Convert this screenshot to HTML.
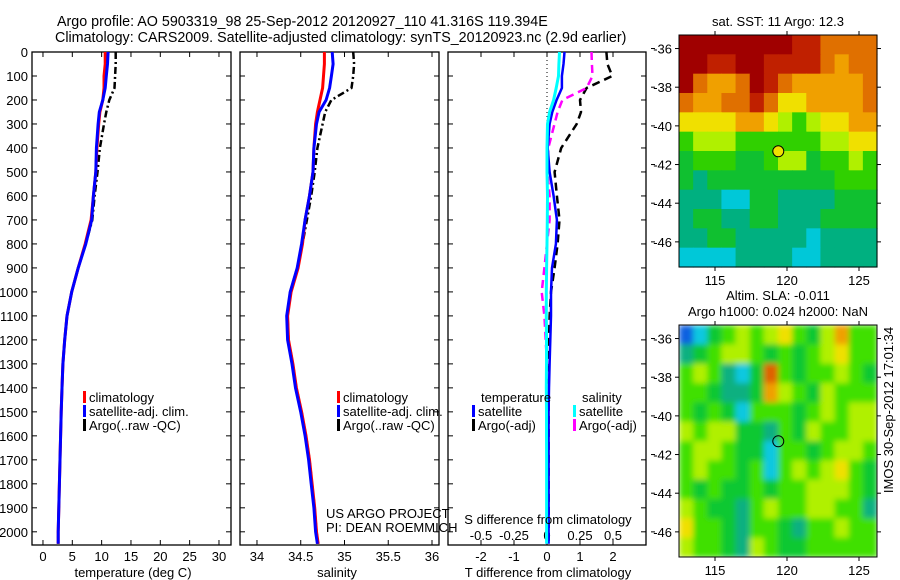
<!DOCTYPE html>
<html><head><meta charset="utf-8"><style>
html,body{margin:0;padding:0;background:#fff;}
svg{display:block;font-family:"Liberation Sans",sans-serif;}
</style></head><body>
<svg id="fig" width="900" height="580" viewBox="0 0 900 580" xmlns="http://www.w3.org/2000/svg">
<defs><clipPath id="slaclip"><rect x="679" y="325" width="198" height="232"/></clipPath><filter id="soft" x="0" y="0" width="1" height="1"><feGaussianBlur stdDeviation="3"/></filter></defs>
<text x="57" y="26" font-size="14.3">Argo profile: AO 5903319_98 25-Sep-2012 20120927_110 41.316S 119.394E</text>
<text x="55" y="42" font-size="14.3">Climatology: CARS2009. Satellite-adjusted climatology: synTS_20120923.nc (2.9d earlier)</text>
<g id="plots"></g>
</svg>
<script>
const depths=[0,50,100,150,200,250,300,400,500,600,700,800,900,1000,1100,1200,1300,1400,1500,1600,1700,1800,1900,2000,2050];
const tempClim=[10.6,10.6,10.4,10.4,10.2,9.7,9.5,9.2,9.0,8.6,8.2,7.2,6.0,4.9,4.1,3.7,3.4,3.25,3.1,3.0,2.9,2.8,2.7,2.6,2.6];
const tempSat=[11.1,11.0,10.8,10.6,10.2,9.6,9.4,9.1,9.0,8.6,8.3,7.3,6.0,4.9,4.1,3.7,3.4,3.25,3.1,3.0,2.9,2.8,2.7,2.6,2.6];
const tempArgo=[12.4,12.4,12.3,12.2,11.3,10.8,10.4,9.7,9.3,8.8,8.4,7.3,6.0,4.9,4.1,3.7,3.4,3.25,3.1,3.0,2.9,2.8,2.7,2.6,2.6];
const salClim=[34.77,34.77,34.76,34.75,34.72,34.69,34.67,34.65,34.64,34.6,34.55,34.52,34.47,34.39,34.35,34.36,34.41,34.45,34.51,34.56,34.6,34.63,34.66,34.68,34.7];
const salSat=[34.86,34.87,34.85,34.83,34.79,34.71,34.68,34.65,34.64,34.6,34.55,34.51,34.46,34.38,34.34,34.35,34.4,34.44,34.5,34.55,34.59,34.62,34.65,34.67,34.69];
const salArgo=[35.10,35.11,35.10,35.08,34.85,34.78,34.75,34.69,34.66,34.62,34.57,34.52,34.46,34.38,34.35,34.36,34.41,34.45,34.51,34.56,34.6,34.63,34.66,34.68,34.7];
const dTsat=[0.53,0.5,0.45,0.45,0.29,0.16,0.08,0.02,0.08,0.2,0.3,0.27,0.15,0.12,0.12,0.1,0.08,0.06,0.05,0.05,0.05,0.05,0.05,0.05,0.05];
const dSsat=[0.095,0.09,0.087,0.07,0.05,0.02,0.004,0,0,0.004,0.002,0,-0.003,-0.005,-0.005,-0.004,-0.004,-0.005,-0.004,-0.004,-0.003,-0.003,-0.003,-0.003,-0.003];
const dTargo=[1.8,1.83,1.98,1.2,1.0,1.03,0.9,0.43,0.23,0.3,0.38,0.32,0.23,0.12,0.08,0.06,0.05,0.05,0.05,0.05,0.05,0.05,0.05,0.05,0.05];
const dSargo=[0.337,0.34,0.345,0.3,0.117,0.08,0.057,0.01,0.004,0.02,0.02,0,-0.02,-0.04,-0.02,-0.01,0,0,0,0,0,0,0,0,0];
const depthTicks=[0,100,200,300,400,500,600,700,800,900,1000,1100,1200,1300,1400,1500,1600,1700,1800,1900,2000];
const tempTicks=[0,5,10,15,20,25,30];
const salTicks=[34,34.5,35,35.5,36];
const dTTicks=[-2,-1,0,1,2];
const dSTicks=[-0.5,-0.25,0,0.25,0.5];
const dSTickLabels=["-0.5","-0.25","0","0.25","0.5"];
const sstGrid=["99999999887777","99889988887677","97667987666667","76677875566667","55556654345566","34443333334455","23332234423343","21222222222333","11100221111222","12211221112222","11221111101111","00001111001111"];
const slaGrid=["01345456435744","23455434345644","45421384344543","44322375435444","43431444345455","54553324354455","45543314434554","45443414545643","43433434455543","54332454455442","64432443244544","54432543344444"];
const lonTicks=[115,120,125];
const latTicks=[-36,-38,-40,-42,-44,-46];
const floatLon=119.394, floatLat=-41.316;

const NS="http://www.w3.org/2000/svg";
const root=document.getElementById('plots');
function mk(tag,attrs,parent){const e=document.createElementNS(NS,tag);for(const k in attrs)e.setAttribute(k,attrs[k]);(parent||root).appendChild(e);return e;}
const yTop=52,yBot=545;
const yD=d=>yTop+(d/2055)*(yBot-yTop);

function panel(name,x0,x1,xmin,xmax){
  const g=mk('g',{});
  
  
  const xs=v=>x0+(v-xmin)/(xmax-xmin)*(x1-x0);
  return {g,xs,x0,x1};
}
function frame(p,xticks,labels,ly){
  const b=mk('rect',{x:p.x0,y:yTop,width:p.x1-p.x0,height:yBot-yTop,fill:'none',stroke:'#000','stroke-width':1.3},p.g);
  
  
  depthTicks.forEach(d=>{const y=yD(d);
    mk('line',{x1:p.x0,x2:p.x0+5,y1:y,y2:y,stroke:'#000'},p.g);
    mk('line',{x1:p.x1,x2:p.x1-5,y1:y,y2:y,stroke:'#000'},p.g);});
  xticks.forEach((v,i)=>{const x=p.xs(v);
    mk('line',{x1:x,x2:x,y1:yTop,y2:yTop+5,stroke:'#000'},p.g);
    mk('line',{x1:x,x2:x,y1:yBot,y2:yBot-5,stroke:'#000'},p.g);
    if(labels){const t=mk('text',{x:x,y:ly,'font-size':13,'text-anchor':'middle'},p.g);t.textContent=labels[i];
      
      }
  });
}
function line(p,vals,xs,color,w,dash,name){
  const pts=vals.map((v,i)=>xs(v).toFixed(1)+','+yD(depths[i]).toFixed(1)).join(' ');
  const a={points:pts,fill:'none',stroke:color,'stroke-width':w,'stroke-linejoin':'round'};
  if(dash)a['stroke-dasharray']=dash;
  const e=mk('polyline',a,p.g);
  
  
}
function txt(g,x,y,s,size,name,anchor){const t=mk('text',{x:x,y:y,'font-size':size||13,'text-anchor':anchor||'start'},g);t.textContent=s;
  
  return t;}
function legend(g,x,y,color,label,name){
  const r=mk('rect',{x:x,y:y-11,width:3,height:12,fill:color},g);
  
  
  txt(g,x+6,y,label,13,name+'-label');
}

depthTicks.forEach(d=>{txt(root,28,yD(d)+5,String(d),13,'y-tick-label','end');});

const p1=panel('temperature-panel',32,231,-1.87,32.05);
frame(p1,tempTicks,tempTicks.map(String),561);
line(p1,tempArgo,p1.xs,'#000',2.5,'7,3,2,3','argo-temp-line');
line(p1,tempClim,p1.xs,'#ff0000',3,null,'clim-temp-line');
line(p1,tempSat,p1.xs,'#0000ff',3,null,'sat-temp-line');
txt(p1.g,133,577,'temperature (deg C)',13,'x-axis-title','middle');
legend(p1.g,83,402,'#ff0000','climatology','legend-climatology');
legend(p1.g,83,416,'#0000ff','satellite-adj. clim.','legend-satellite');
legend(p1.g,83,430,'#000','Argo(..raw -QC)','legend-argo');

const p2=panel('salinity-panel',240,439,33.806,36.08);
frame(p2,salTicks,salTicks.map(String),561);
line(p2,salArgo,p2.xs,'#000',2.5,'7,3,2,3','argo-sal-line');
line(p2,salClim,p2.xs,'#ff0000',3,null,'clim-sal-line');
line(p2,salSat,p2.xs,'#0000ff',3,null,'sat-sal-line');
txt(p2.g,337,577,'salinity',13,'x-axis-title','middle');
legend(p2.g,337,402,'#ff0000','climatology','legend-climatology');
legend(p2.g,337,416,'#0000ff','satellite-adj. clim.','legend-satellite');
legend(p2.g,337,430,'#000','Argo(..raw -QC)','legend-argo');
txt(p2.g,326,518,'US ARGO PROJECT',13,'credit-project');
txt(p2.g,326,532,'PI: DEAN ROEMMICH',13,'credit-pi');

const p3=panel('difference-panel',448,646,-3,3);
const xsS=v=>p3.xs(v*4);
frame(p3,dTTicks,dTTicks.map(String),561);
dSTicks.forEach((v,i)=>txt(p3.g,xsS(v),540,dSTickLabels[i],13,'s-tick-label','middle'));
mk('line',{x1:p3.xs(0),x2:p3.xs(0),y1:yTop,y2:yD(300),stroke:'#000','stroke-dasharray':'1,3'},p3.g);
line(p3,dTargo,p3.xs,'#000',2.5,'8,5','argo-temp-diff-line');
line(p3,dSargo,xsS,'#ff00ff',2.5,'8,5','argo-sal-diff-line');
line(p3,dTsat,p3.xs,'#0000ff',2.5,null,'sat-temp-diff-line');
line(p3,dSsat,xsS,'#00ffff',3,null,'sat-sal-diff-line');
txt(p3.g,548,524,'S difference from climatology',13,'s-axis-title','middle');
txt(p3.g,548,577,'T difference from climatology',13,'t-axis-title','middle');
txt(p3.g,481,402,'temperature',13,'legend-temperature-header');
txt(p3.g,582,402,'salinity',13,'legend-salinity-header');
legend(p3.g,472,416,'#0000ff','satellite','legend-temp-satellite');
legend(p3.g,472,430,'#000','Argo(-adj)','legend-temp-argo');
legend(p3.g,573,416,'#00ffff','satellite','legend-sal-satellite');
legend(p3.g,573,430,'#ff00ff','Argo(-adj)','legend-sal-argo');

const sstColors=["#00c8d8","#00b080","#10c030","#30d000","#b0f000","#f0e000","#f0a000","#e07000","#c02000","#a00000"];
const slaColors=["#1060e0","#10c8e0","#10b080","#10c830","#40e000","#b0f000","#f0e000","#f0a000","#e06000"];
function map(name,y0,grid,colors,markerFill,titles,smooth){
  const g=mk('g',{});
  
  
  const x0=679,x1=877,y1=y0+232;
  const lonMin=112.5,lonMax=126.25,latMax=-35.3,latMin=-47.3;
  const xs=v=>x0+(v-lonMin)/(lonMax-lonMin)*(x1-x0);
  const ys=v=>y0+(latMax-v)/(latMax-latMin)*(y1-y0);
  const rows=grid.length,cols=grid[0].length;
  const cw=(x1-x0)/cols,ch=(y1-y0)/rows;
  const cg=mk('g',{},g);
  if(smooth){const cl=mk('g',{'clip-path':'url(#slaclip)'},g);cl.appendChild(cg);cg.setAttribute('filter','url(#soft)');}
  
  
  grid.forEach((row,r)=>{for(let c=0;c<cols;c++){
    const cell=mk('rect',{x:(x0+c*cw).toFixed(2),y:(y0+r*ch).toFixed(2),width:(cw+0.6).toFixed(2),height:(ch+0.6).toFixed(2),fill:colors[+row[c]]},cg);
    
    }});
  const fr=mk('rect',{x:x0,y:y0,width:x1-x0,height:y1-y0,fill:'none',stroke:'#000','stroke-width':1},g);
  
  
  lonTicks.forEach(v=>{const x=xs(v);
    mk('line',{x1:x,x2:x,y1:y0-4,y2:y0,stroke:'#000'},g);
    mk('line',{x1:x,x2:x,y1:y1,y2:y1+4,stroke:'#000'},g);
    txt(g,x,y1+18,String(v),13,'lon-tick-label','middle');});
  latTicks.forEach(v=>{const y=ys(v);
    mk('line',{x1:x0-4,x2:x0,y1:y,y2:y,stroke:'#000'},g);
    mk('line',{x1:x1,x2:x1+4,y1:y,y2:y,stroke:'#000'},g);
    mk('line',{x1:651,x2:655,y1:y,y2:y,stroke:'#000'},g);
    txt(g,672,y+5,String(v),13,'lat-tick-label','end');});
  const m=mk('circle',{cx:xs(floatLon),cy:ys(floatLat),r:5.5,fill:markerFill,stroke:'#000','stroke-width':1},g);
  
  
  titles.forEach((t,i)=>txt(g,778,y0-9-(titles.length-1-i)*16,t,13,'map-title','middle'));
}
map('sst-map',35,sstGrid,sstColors,'#f0e000',['sat. SST: 11 Argo: 12.3'],false);
map('sla-map',325,slaGrid,slaColors,'none',['Altim. SLA: -0.011','Argo h1000: 0.024 h2000: NaN'],true);
const stamp=txt(root,0,0,'IMOS 30-Sep-2012 17:01:34',13,'timestamp-label','middle');
stamp.setAttribute('transform','translate(893,410) rotate(-90)');
</script>
</body></html>
